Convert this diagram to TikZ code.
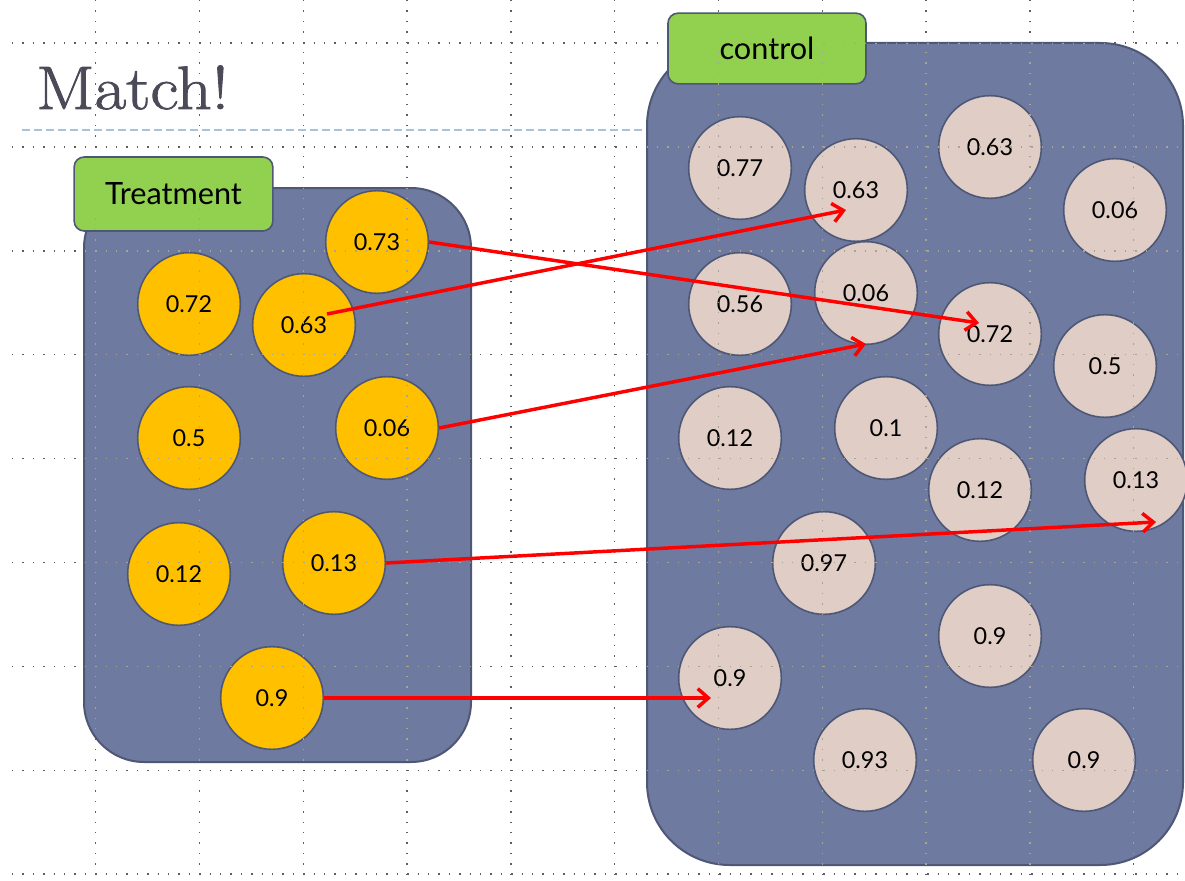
\documentclass[tikz,border=0pt]{standalone}
\usepackage{fontspec}
\usepackage{graphicx}
\newfontfamily\gill{Lato}
\newfontfamily\titlefont[FakeBold=1.3]{Latin Modern Roman}
\usetikzlibrary{arrows.meta,calc}
\definecolor{boxblue}{HTML}{6E7A9F}
\definecolor{boxedge}{HTML}{4E5876}
\definecolor{tgold}{HTML}{FFC000}
\definecolor{cpink}{HTML}{E0CDC5}
\definecolor{lgreen}{HTML}{92D050}
\definecolor{titlegray}{HTML}{4A4A58}
\definecolor{rulblue}{HTML}{A8C2DA}
\definecolor{griddark}{HTML}{5E5E5E}
\definecolor{gridlight}{HTML}{A8A493}
\definecolor{arrred}{HTML}{FF0000}
\begin{document}
\begin{tikzpicture}[x=0.75pt,y=-0.75pt,
  gridline/.style={line width=1.1pt,dash pattern=on 1.1pt off 6.7pt},
  group/.style={fill=boxblue,draw=boxedge,line width=1.5pt},
  ball/.style={circle,draw=boxedge,line width=1.2pt,minimum size=77pt,inner sep=0pt,
    font=\gill\fontsize{17.5}{20}\selectfont},
  tball/.style={ball,fill=tgold},
  cball/.style={ball,fill=cpink},
  tag/.style={draw=boxedge,fill=lgreen,rounded corners=7.5pt,line width=1.2pt,
    inner sep=0pt,font=\gill\fontsize{23}{27}\selectfont},
  link/.style={draw=arrred,line width=2.6pt,-{Straight Barb[length=8pt,width=14pt]}}]
\useasboundingbox (0,0) rectangle (1185,881);
% background grid
\begin{scope}[griddark]
\foreach \i in {0,...,10} \draw[gridline] ({95.7+103.8*\i},0) -- ({95.7+103.8*\i},874);
\foreach \j in {0,...,8} \draw[gridline] (12,{43+103.9*\j}) -- (1185,{43+103.9*\j});
\end{scope}
% title
\node[font=\titlefont\fontsize{46}{50}\selectfont,text=titlegray,anchor=base west,inner sep=0pt] (title) at (36,109) {\scalebox{1.12}[1]{Match!}};
\coordinate (rulea) at (22,130);
\coordinate (ruleb) at (647,130);
\draw[rulblue,line width=0.9pt,dash pattern=on 6pt off 3pt] (rulea) -- (ruleb);
% groups
\draw[group,rounded corners=45pt] (84,188) rectangle (471,762);
\draw[group,rounded corners=62pt] (647,43) rectangle (1183,865);
\node[tag,minimum width=149pt,minimum height=55.5pt] (ttag) at (173.5,194) {Treatment};
\node[tag,minimum width=148.5pt,minimum height=53pt] (ctag) at (767,48.5) {control};
% treatment
\node[tball] (t73) at (377,242) {0.73};
\node[tball] (t72) at (189,304) {0.72};
\node[tball] (t63) at (304,325) {0.63};
\node[tball] (t5)  at (189,438) {0.5};
\node[tball] (t06) at (387,428) {0.06};
\node[tball] (t12) at (179,574) {0.12};
\node[tball] (t13) at (334,563) {0.13};
\node[tball] (t9)  at (272,698) {0.9};
% control
\node[cball] (c77)  at (740,168) {0.77};
\node[cball] (c63a) at (856,190) {0.63};
\node[cball] (c63b) at (990,147) {0.63};
\node[cball] (c06a) at (1115,210) {0.06};
\node[cball] (c56)  at (740,304) {0.56};
\node[cball] (c06b) at (866,293) {0.06};
\node[cball] (c72)  at (990,334) {0.72};
\node[cball] (c5)   at (1105,366) {0.5};
\node[cball] (c12a) at (730,438) {0.12};
\node[cball] (c1)   at (886,428) {0.1};
\node[cball] (c12b) at (980,490) {0.12};
\node[cball] (c13)  at (1136,480) {0.13};
\node[cball] (c97)  at (824,563) {0.97};
\node[cball] (c9a)  at (990,636) {0.9};
\node[cball] (c9b)  at (730,678) {0.9};
\node[cball] (c93)  at (865,760) {0.93};
\node[cball] (c9c)  at (1084,760) {0.9};
% grid seen over the shapes
\begin{scope}[gridlight]
\begin{scope}
\clip[rounded corners=45pt] (84,188) rectangle (471,762);
\foreach \i in {0,...,10} \draw[gridline] ({95.7+103.8*\i},0) -- ({95.7+103.8*\i},874);
\foreach \j in {0,...,8} \draw[gridline] (12,{43+103.9*\j}) -- (1185,{43+103.9*\j});
\end{scope}
\begin{scope}
\clip[rounded corners=62pt] (647,43) rectangle (1183,865);
\foreach \i in {0,...,10} \draw[gridline] ({95.7+103.8*\i},0) -- ({95.7+103.8*\i},874);
\foreach \j in {0,...,8} \draw[gridline] (12,{43+103.9*\j}) -- (1185,{43+103.9*\j});
\end{scope}
\end{scope}
% matches
\coordinate (s2) at ($(t63)+(23,-11)$);
\coordinate (e1) at ($(c72)+(-11,-11)$);
\coordinate (e2) at ($(c63a)+(-10,20)$);
\coordinate (e3) at ($(c06b)+(0,51)$);
\coordinate (e4) at ($(c13)+(20,42)$);
\coordinate (e5) at ($(c9b)+(-19,20)$);
\draw[link] (t73.east) -- (e1);
\draw[link] (s2) -- (e2);
\draw[link] (t06.east) -- (e3);
\draw[link] (t13.east) -- (e4);
\draw[link] (t9.east) -- (e5);
\end{tikzpicture}
\end{document}
